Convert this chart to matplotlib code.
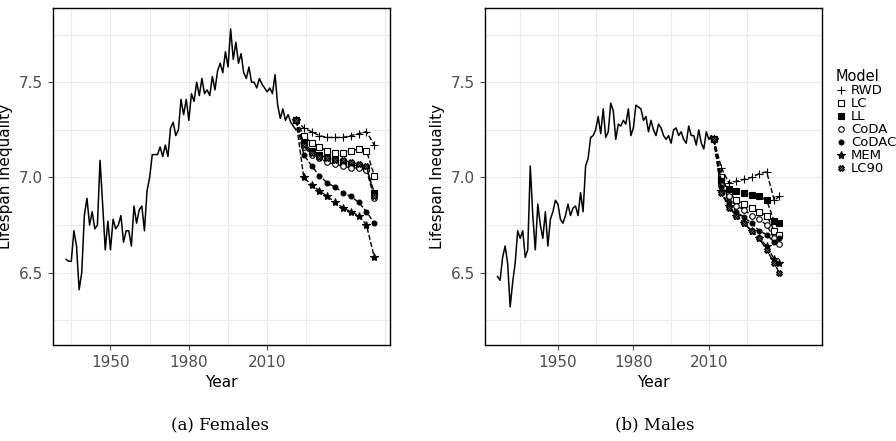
import matplotlib.pyplot as plt

f_years = list(range(1933, 2022))
f_vals = [6.57, 6.56, 6.56, 6.72, 6.64, 6.41, 6.50, 6.80, 6.89, 6.75, 6.82, 6.73, 6.75, 7.09, 6.86, 6.62,
          6.77, 6.62, 6.78, 6.73, 6.75, 6.80, 6.66, 6.72, 6.72, 6.64, 6.85, 6.76, 6.83, 6.85, 6.72, 6.93,
          7.00, 7.12, 7.12, 7.12, 7.16, 7.11, 7.17, 7.11, 7.26, 7.29, 7.22, 7.25, 7.41, 7.33, 7.41, 7.30,
          7.44, 7.40, 7.50, 7.43, 7.52, 7.44, 7.46, 7.43, 7.53, 7.46, 7.56, 7.60, 7.55, 7.66, 7.58, 7.78,
          7.62, 7.71, 7.60, 7.65, 7.55, 7.52, 7.58, 7.50, 7.50, 7.47, 7.52, 7.49, 7.47, 7.45, 7.47, 7.44,
          7.54, 7.38, 7.31, 7.36, 7.30, 7.33, 7.29, 7.27, 7.25]
m_years = list(range(1926, 2013))
m_vals = [6.48, 6.46, 6.58, 6.64, 6.55, 6.32, 6.45, 6.55, 6.72, 6.68, 6.72, 6.58, 6.62, 7.06, 6.80, 6.62,
          6.86, 6.75, 6.68, 6.82, 6.64, 6.78, 6.82, 6.88, 6.86, 6.78, 6.76, 6.80, 6.86, 6.80, 6.84, 6.85,
          6.80, 6.92, 6.82, 7.06, 7.10, 7.21, 7.22, 7.25, 7.32, 7.23, 7.36, 7.21, 7.24, 7.39, 7.35, 7.20,
          7.28, 7.27, 7.30, 7.28, 7.36, 7.22, 7.26, 7.38, 7.37, 7.36, 7.30, 7.32, 7.24, 7.30, 7.25, 7.22,
          7.28, 7.26, 7.22, 7.20, 7.22, 7.18, 7.25, 7.26, 7.22, 7.24, 7.20, 7.18, 7.27, 7.22, 7.22, 7.17,
          7.25, 7.18, 7.15, 7.24, 7.20, 7.22, 7.20]

models = ["RWD", "LC", "LL", "CoDA", "CoDAC", "MEM", "LC90"]
markers = ["+", "s", "s", "o", "o", "*", "X"]
faces = ["k", "white", "k", "white", "k", "k", "0.4"]
sizes = [6, 4, 4, 4, 3.5, 6, 4]

f_fc_years = [2021, 2024, 2027, 2030, 2033, 2036, 2039, 2042, 2045, 2048, 2051]
f_fc = {
    "RWD":   [7.30, 7.26, 7.24, 7.22, 7.21, 7.21, 7.21, 7.22, 7.23, 7.24, 7.17],
    "LC":    [7.30, 7.22, 7.18, 7.16, 7.14, 7.13, 7.13, 7.14, 7.15, 7.14, 7.01],
    "LL":    [7.30, 7.18, 7.14, 7.12, 7.10, 7.09, 7.08, 7.07, 7.06, 7.05, 6.92],
    "CoDA":  [7.30, 7.16, 7.12, 7.10, 7.08, 7.07, 7.06, 7.05, 7.05, 7.04, 6.89],
    "CoDAC": [7.30, 7.12, 7.06, 7.01, 6.97, 6.95, 6.92, 6.90, 6.87, 6.82, 6.76],
    "MEM":   [7.30, 7.00, 6.96, 6.93, 6.90, 6.87, 6.84, 6.82, 6.80, 6.75, 6.58],
    "LC90":  [7.30, 7.17, 7.13, 7.11, 7.10, 7.09, 7.09, 7.08, 7.07, 7.06, 6.90],
}
m_fc_years = [2012, 2015, 2018, 2021, 2024, 2027, 2030, 2033, 2036, 2038]
m_fc = {
    "RWD":   [7.20, 7.05, 6.97, 6.98, 6.99, 7.00, 7.02, 7.03, 6.88, 6.90],
    "LC":    [7.20, 7.00, 6.92, 6.88, 6.86, 6.84, 6.82, 6.80, 6.72, 6.70],
    "LL":    [7.20, 6.98, 6.94, 6.93, 6.92, 6.91, 6.90, 6.88, 6.77, 6.76],
    "CoDA":  [7.20, 6.96, 6.90, 6.85, 6.83, 6.80, 6.78, 6.75, 6.68, 6.65],
    "CoDAC": [7.20, 6.95, 6.87, 6.82, 6.79, 6.76, 6.72, 6.70, 6.66, 6.68],
    "MEM":   [7.20, 6.93, 6.85, 6.80, 6.76, 6.72, 6.68, 6.64, 6.57, 6.55],
    "LC90":  [7.20, 6.92, 6.84, 6.80, 6.76, 6.72, 6.68, 6.62, 6.55, 6.50],
}

fig = plt.figure(figsize=(8.96, 4.41), dpi=100)
ax1 = fig.add_axes([53 / 896, 1 - 345 / 441, 337 / 896, 337 / 441])
ax2 = fig.add_axes([485 / 896, 1 - 345 / 441, 337 / 896, 337 / 441])

panels = [(ax1, f_years, f_vals, f_fc_years, f_fc, (1928, 2057)),
          (ax2, m_years, m_vals, m_fc_years, m_fc, (1921, 2049))]
for ax, yrs, vals, fyrs, fc, xl in panels:
    ax.plot(yrs, vals, color="k", lw=1.1)
    for i, m in enumerate(models):
        ax.plot(fyrs, fc[m], color="k", ls="--", lw=1, marker=markers[i], ms=sizes[i],
                mfc=faces[i], mec="k", mew=0.8, label=m)
    ax.set_xlim(*xl)
    ax.set_ylim(6.12, 7.89)
    ax.set_xticks([1950, 1980, 2010])
    ax.set_yticks([6.5, 7.0, 7.5])
    ax.set_yticks([6.25, 6.75, 7.25, 7.75], minor=True)
    ax.set_xticks([1935, 1965, 1995, 2025, 2055], minor=True)
    ax.grid(True, which="both", color="#ebebeb", lw=0.8)
    ax.set_axisbelow(True)
    ax.tick_params(labelsize=11, colors="#4d4d4d", which="both")
    ax.tick_params(which="minor", length=0)
    ax.set_xlabel("Year", fontsize=11)
    ax.set_ylabel("Lifespan Inequality", fontsize=11)
    for s in ax.spines.values():
        s.set_linewidth(1)

l = models
h = [plt.Line2D([], [], ls="none", marker=markers[i], ms=sizes[i], mfc=faces[i], mec="k", mew=0.8)
     for i in range(len(models))]
fig.legend(h, l, loc="upper left", bbox_to_anchor=(826 / 896, 1 - 60 / 441), frameon=False,
           title="Model", fontsize=9.5, title_fontsize=10.5, alignment="left",
           handlelength=0.8, handletextpad=0.4, labelspacing=0.0, borderpad=0.2)

fig.text(220 / 896, 1 - 425 / 441, "(a) Females", ha="center", va="center", family="DejaVu Serif", fontsize=12)
fig.text(655 / 896, 1 - 425 / 441, "(b) Males", ha="center", va="center", family="DejaVu Serif", fontsize=12)

fig.savefig("out.png", dpi=100)
